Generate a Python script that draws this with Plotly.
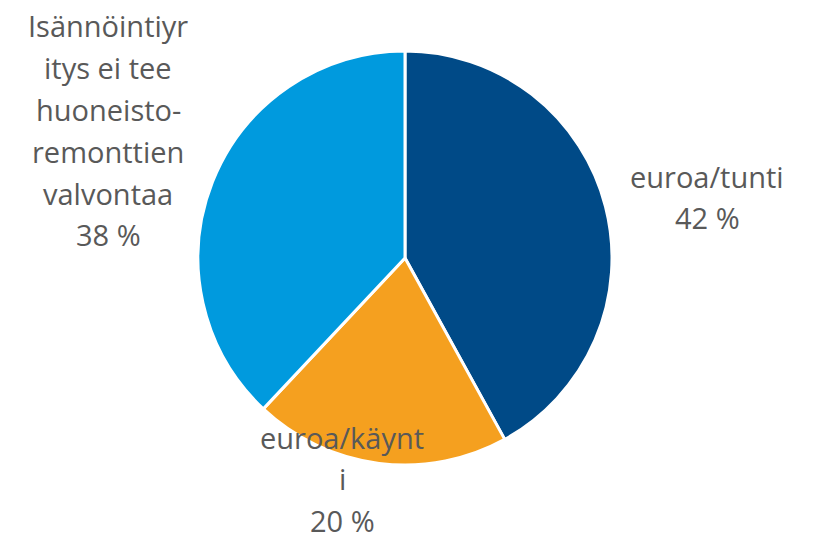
import plotly.graph_objects as go

# Data
categories = ["euroa/tunti", "euroa/käynti",
              "Isännöintiyritys ei tee huoneisto-remonttien valvontaa"]
values = [42, 20, 38]
label_lines = [
    ["euroa/tunti"],
    ["euroa/käynt", "i"],
    ["Isännöintiyr", "itys ei tee", "huoneisto-", "remonttien", "valvontaa"],
]
colors = ["#004A87", "#F5A01F", "#009ADE"]

# page body has an 8px margin; work in window pixels and offset
OFF = 8
W, H = 820 - OFF, 533 - OFF


def px(x):
    return (x - OFF) / W


def py(y):
    return 1 - (y - OFF) / H


fig = go.Figure(go.Pie(
    labels=categories,
    values=values,
    sort=False,
    direction="clockwise",
    rotation=0,
    marker=dict(colors=colors, line=dict(color="white", width=3)),
    textinfo="none",
    hoverinfo="label+percent",
    domain=dict(x=[px(198), px(612)], y=[py(465), py(51)]),
    showlegend=False,
))

# label block positions (pixel center x, first-line center y), line spacing
positions = [(707, 176), (342, 437), (108, 26)]
spacing = 41.8
total = sum(values)
annotations = []
for lines, val, (cx, y0) in zip(label_lines, values, positions):
    pct = f"{round(val / total * 100)} %"
    for i, t in enumerate(lines + [pct]):
        y = y0 + i * spacing
        annotations.append(dict(
            x=px(cx), y=py(y), xref="paper", yref="paper",
            text=t, showarrow=False, xanchor="center", yanchor="middle",
            font=dict(family="Open Sans, sans-serif", size=29, color="#595959"),
        ))

fig.update_layout(
    width=W, height=H,
    margin=dict(l=0, r=0, t=0, b=0),
    paper_bgcolor="white", plot_bgcolor="white",
    annotations=annotations,
)
fig.write_html("out.html")
